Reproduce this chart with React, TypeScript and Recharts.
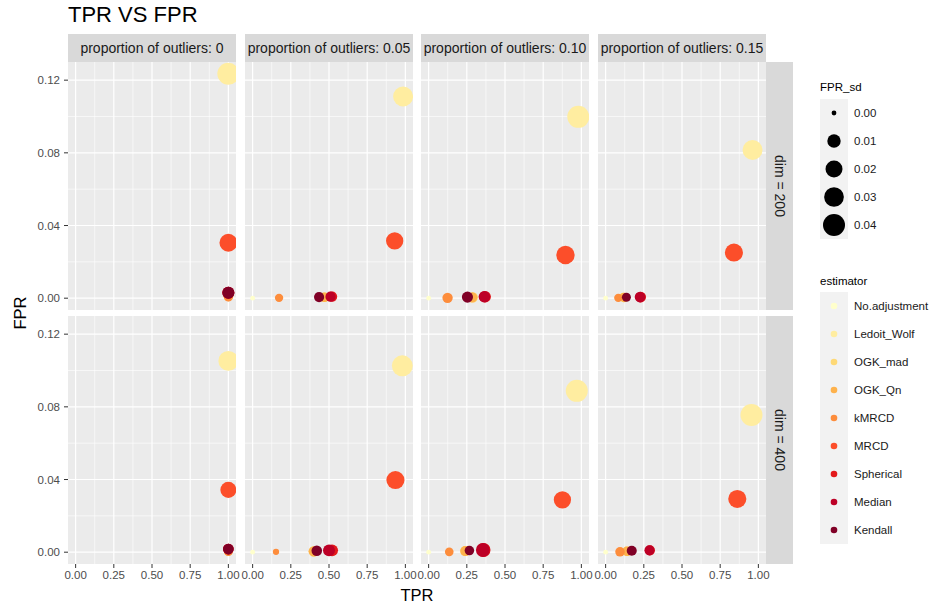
import React from "react";
import { ScatterChart, Scatter, XAxis, YAxis, CartesianGrid } from "recharts";

const estimators = [
  "No.adjustment",
  "Ledoit_Wolf",
  "OGK_mad",
  "OGK_Qn",
  "kMRCD",
  "MRCD",
  "Spherical",
  "Median",
  "Kendall",
];
const estimatorColors = [
  "#FFFFCC",
  "#FFEDA0",
  "#FED976",
  "#FEB24C",
  "#FD8D3C",
  "#FC4E2A",
  "#E31A1C",
  "#BD0026",
  "#800026",
];
const proportionLabels = ["0", "0.05", "0.10", "0.15"];
const dimLabels = ["200", "400"];
const xTicks = [0, 0.25, 0.5, 0.75, 1];
const xMinor = [0.125, 0.375, 0.625, 0.875];
const yTicks = [0, 0.04, 0.08, 0.12];
const yMinor = [0.02, 0.06, 0.1];
const sizeBreaks = [0, 0.01, 0.02, 0.03, 0.04];

// dim = 200: one row per proportion of outliers, one value per estimator
const tpr200 = [
  [1, 1, 1, 1, 1, 1, 1, 1, 1],
  [0, 0.985, 0.47, 0.47, 0.173, 0.93, 0.52, 0.51, 0.435],
  [0, 0.98, 0.29, 0.285, 0.124, 0.896, 0.37, 0.365, 0.254],
  [0, 0.962, 0.12, 0.12, 0.083, 0.84, 0.23, 0.225, 0.136],
];
const fpr200 = [
  [0, 0.1235, 0.001, 0.001, 0.0005, 0.0305, 0.003, 0.003, 0.003],
  [0, 0.111, 0.0005, 0.0005, 0.0002, 0.0315, 0.0008, 0.0008, 0.0006],
  [0, 0.0998, 0.0005, 0.0005, 0.0002, 0.0238, 0.0008, 0.0008, 0.0006],
  [0, 0.0816, 0.0004, 0.0004, 0.0002, 0.0251, 0.0006, 0.0006, 0.0005],
];
const sd200 = [
  [0, 0.04, 0.003, 0.003, 0.002, 0.023, 0.007, 0.007, 0.007],
  [0, 0.031, 0.003, 0.003, 0.0017, 0.021, 0.004, 0.004, 0.0039],
  [0, 0.04, 0.004, 0.004, 0.0042, 0.025, 0.0063, 0.0063, 0.0054],
  [0, 0.031, 0.003, 0.003, 0.0017, 0.0236, 0.0045, 0.0045, 0.0024],
];

// dim = 400
const tpr400 = [
  [1, 1, 1, 1, 1, 1, 1, 1, 1],
  [0, 0.98, 0.4, 0.4, 0.153, 0.935, 0.52, 0.5, 0.42],
  [0, 0.97, 0.24, 0.24, 0.135, 0.876, 0.36, 0.355, 0.267],
  [0, 0.955, 0.14, 0.14, 0.094, 0.862, 0.29, 0.287, 0.171],
];
const fpr400 = [
  [0, 0.1053, 0.0005, 0.0005, 0.0003, 0.0343, 0.0017, 0.0017, 0.0017],
  [0, 0.1026, 0.0005, 0.0005, 0.0002, 0.0397, 0.001, 0.001, 0.0008],
  [0, 0.0888, 0.0006, 0.0006, 0.0002, 0.0288, 0.0012, 0.0012, 0.0009],
  [0, 0.0755, 0.0005, 0.0005, 0.0002, 0.0293, 0.001, 0.001, 0.0008],
];
const sd400 = [
  [0, 0.031, 0.002, 0.002, 0.002, 0.017, 0.0045, 0.0045, 0.0045],
  [0, 0.035, 0.004, 0.004, 0.0003, 0.024, 0.007, 0.007, 0.0045],
  [0, 0.04, 0.0037, 0.0037, 0.002, 0.021, 0.011, 0.011, 0.003],
  [0, 0.04, 0.003, 0.003, 0.003, 0.024, 0.0037, 0.0037, 0.0037],
];

const font = '"Liberation Sans", Arial, sans-serif';
const panelW = 168;
const panelH = 248;
const colLeft = [68, 245, 421, 598];
const rowTop = [62, 316];
const yAxisW = 50;
const xAxisH = 30;
const yDomain = [-0.0065, 0.13];

const radiusFor = (sd: number) => 2.4 + 43 * Math.sqrt(sd);

const SizedDot = (props: any) => {
  const { cx, cy, fill } = props;
  const sd = props.payload?.sd ?? props.sd ?? 0;
  if (cx == null || cy == null) return null;
  return <circle cx={cx} cy={cy} r={radiusFor(sd)} fill={fill} />;
};

const tickStyle = { fill: "#4D4D4D", fontSize: 11.5, fontFamily: font };

const Panel = ({ row, col }: { row: number; col: number }) => {
  const tpr = row === 0 ? tpr200 : tpr400;
  const fpr = row === 0 ? fpr200 : fpr400;
  const sd = row === 0 ? sd200 : sd400;
  const showY = col === 0;
  const showX = row === 1;
  const width = panelW + (showY ? yAxisW : 0);
  const height = panelH + (showX ? xAxisH : 0);
  return (
    <div
      style={{
        position: "absolute",
        left: colLeft[col] - (showY ? yAxisW : 0),
        top: rowTop[row],
      }}
    >
      <ScatterChart
        width={width}
        height={height}
        margin={{ top: 0, right: 0, bottom: 0, left: 0 }}
      >
        <CartesianGrid
          fill="#EBEBEB"
          stroke="#FFFFFF"
          strokeWidth={0.6}
          horizontalValues={yMinor}
          verticalValues={xMinor}
        />
        <CartesianGrid
          stroke="#FFFFFF"
          strokeWidth={1.2}
          horizontalValues={yTicks}
          verticalValues={xTicks}
        />
        <XAxis
          type="number"
          dataKey="tpr"
          domain={[-0.05, 1.05]}
          allowDataOverflow
          ticks={xTicks}
          interval={0}
          tickFormatter={(v: number) => v.toFixed(2)}
          hide={!showX}
          height={xAxisH}
          axisLine={false}
          tickLine={{ stroke: "#333333" }}
          tickSize={4}
          tickMargin={3}
          tick={tickStyle}
        />
        <YAxis
          type="number"
          dataKey="fpr"
          domain={yDomain}
          allowDataOverflow
          ticks={yTicks}
          interval={0}
          tickFormatter={(v: number) => v.toFixed(2)}
          hide={!showY}
          width={yAxisW}
          axisLine={false}
          tickLine={{ stroke: "#333333" }}
          tickSize={4}
          tickMargin={4}
          tick={tickStyle}
        />
        {estimators.map((name, i) => (
          <Scatter
            key={name}
            name={name}
            data={[{ tpr: tpr[col][i], fpr: fpr[col][i], sd: sd[col][i] }]}
            fill={estimatorColors[i]}
            shape={SizedDot}
            isAnimationActive={false}
          />
        ))}
      </ScatterChart>
    </div>
  );
};

export default function App() {
  return (
    <div
      style={{
        position: "absolute",
        left: 0,
        top: 0,
        width: 930,
        height: 606,
        background: "#FFFFFF",
        fontFamily: font,
        color: "#1A1A1A",
      }}
    >
      <style>{`.recharts-surface { overflow: visible; }`}</style>
      <div
        style={{
          position: "absolute",
          left: 68,
          top: 2,
          fontSize: 22,
          color: "#000",
        }}
      >
        TPR VS FPR
      </div>

      {proportionLabels.map((p, c) => (
        <div
          key={p}
          style={{
            position: "absolute",
            left: colLeft[c],
            top: 34,
            width: panelW,
            height: 28,
            background: "#D9D9D9",
            fontSize: 14,
            lineHeight: "28px",
            textAlign: "center",
          }}
        >
          proportion of outliers: {p}
        </div>
      ))}

      {dimLabels.map((d, r) => (
        <div
          key={d}
          style={{
            position: "absolute",
            left: colLeft[3] + panelW,
            top: rowTop[r],
            width: 27,
            height: panelH,
            background: "#D9D9D9",
          }}
        >
          <div
            style={{
              position: "absolute",
              left: 13.5,
              top: panelH / 2,
              transform: "translate(-50%, -50%) rotate(90deg)",
              whiteSpace: "nowrap",
              fontSize: 14,
            }}
          >
            dim = {d}
          </div>
        </div>
      ))}

      {[0, 1].map((r) =>
        [0, 1, 2, 3].map((c) => <Panel key={`${r}-${c}`} row={r} col={c} />),
      )}

      <div
        style={{
          position: "absolute",
          left: (colLeft[0] + colLeft[3] + panelW) / 2,
          top: 595,
          transform: "translate(-50%, -50%)",
          fontSize: 16.5,
          color: "#000",
        }}
      >
        TPR
      </div>
      <div
        style={{
          position: "absolute",
          left: 20,
          top: 313,
          transform: "translate(-50%, -50%) rotate(-90deg)",
          fontSize: 16.5,
          color: "#000",
        }}
      >
        FPR
      </div>

      <div
        style={{
          position: "absolute",
          left: 820,
          top: 81,
          fontSize: 11.5,
          color: "#000",
        }}
      >
        FPR_sd
      </div>
      {sizeBreaks.map((b, i) => (
        <div key={b} style={{ position: "absolute", left: 820, top: 98.5 + i * 28 }}>
          <svg width={28} height={28} style={{ display: "block" }}>
            <rect width={28} height={28} fill="#F2F2F2" />
            <circle cx={14} cy={14} r={radiusFor(b)} fill="#000" />
          </svg>
          <div
            style={{
              position: "absolute",
              left: 34,
              top: 0,
              lineHeight: "28px",
              fontSize: 11.5,
              color: "#1A1A1A",
            }}
          >
            {b.toFixed(2)}
          </div>
        </div>
      ))}

      <div
        style={{
          position: "absolute",
          left: 820,
          top: 275,
          fontSize: 11.5,
          color: "#000",
        }}
      >
        estimator
      </div>
      {estimators.map((name, i) => (
        <div key={name} style={{ position: "absolute", left: 820, top: 291.7 + i * 28 }}>
          <svg width={28} height={28} style={{ display: "block" }}>
            <rect width={28} height={28} fill="#F2F2F2" />
            <circle cx={14} cy={14} r={3.3} fill={estimatorColors[i]} />
          </svg>
          <div
            style={{
              position: "absolute",
              left: 34,
              top: 0,
              lineHeight: "28px",
              fontSize: 11.5,
              whiteSpace: "nowrap",
              color: "#1A1A1A",
            }}
          >
            {name}
          </div>
        </div>
      ))}
    </div>
  );
}
